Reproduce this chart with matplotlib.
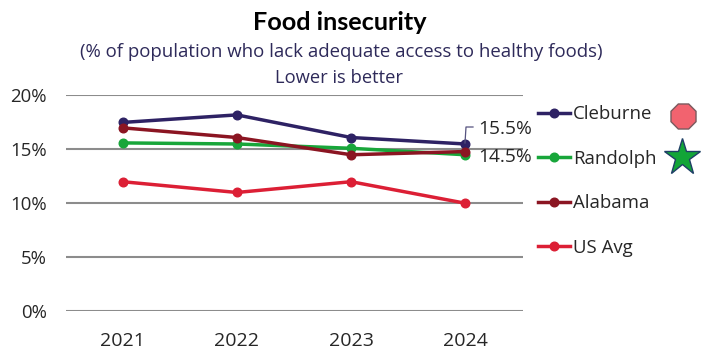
import matplotlib
matplotlib.use("Agg")
import matplotlib.pyplot as plt
from matplotlib.lines import Line2D

years = ["2021", "2022", "2023", "2024"]
cleburne = [17.5, 18.2, 16.1, 15.5]
randolph = [15.6, 15.5, 15.1, 14.5]
alabama = [17.0, 16.1, 14.5, 14.8]
us_avg = [12.0, 11.0, 12.0, 10.0]
series_names = ["Cleburne", "Randolph", "Alabama", "US Avg"]
yticks = [0, 5, 10, 15, 20]

W, H = 701, 350
plt.rcParams['font.family'] = ['Open Sans', 'DejaVu Sans']
fig = plt.figure(figsize=(W/100, H/100), dpi=100)
L, R, T, B = 65.5, 522.5, 95.5, 311
ax = fig.add_axes([L/W, 1-B/H, (R-L)/W, (B-T)/H])
ax.set_xlim(-0.5, 3.5)
ax.set_ylim(0, 20)

cols = ["#2E2264", "#18A63A", "#8B1522", "#DC1F35"]
data = [randolph, cleburne, alabama, us_avg]
dcols = [cols[1], cols[0], cols[2], cols[3]]
x = range(len(years))
for d, c in zip(data, dcols):
    ax.plot(x, d, color=c, lw=2.5, marker='o', ms=6.2, mec=c, mfc=c, zorder=3, clip_on=False)

ax.set_yticks(yticks)
ax.set_yticklabels([f"{v}%" for v in yticks], fontsize=13.4, color="#262626")
ax.set_xticks(list(x))
ax.set_xticklabels(years, fontsize=14, color="#262626")
ax.tick_params(length=0, axis='y', pad=13.5)
ax.tick_params(length=0, axis='x', pad=15)
ax.grid(axis='y', color="#8C8C8C", lw=1.5, zorder=0)
ax.set_axisbelow(True)
for s in ax.spines.values():
    s.set_visible(False)

def fx(px): return px/W
def fy(py): return 1-py/H

# data labels
fig.text(fx(478), fy(129), f"{cleburne[-1]}%", fontsize=13.8, color="#262626", va='center', ha='left')
fig.text(fx(478), fy(157), f"{randolph[-1]}%", fontsize=13.8, color="#262626", va='center', ha='left')
fig.add_artist(Line2D([fx(465), fx(466), fx(473)], [fy(143), fy(127), fy(127)], color="#55527F", lw=0.9))

# titles
fig.text(fx(340), fy(22), "Food insecurity", fontsize=18.2, fontweight='bold', family='Lato', color="black", ha='center', va='center')
fig.text(fx(341), fy(52), "(% of population who lack adequate access to healthy foods)", fontsize=13.45, color="#2E2A5A", ha='center', va='center')
fig.text(fx(339), fy(78), "Lower is better", fontsize=13.2, color="#2E2A5A", ha='center', va='center')

# legend
handles = [Line2D([], [], color=c, lw=2.5, marker='o', ms=6.2) for c in cols]
leg = fig.legend(handles, series_names, loc='upper left', bbox_to_anchor=(fx(538), fy(105.5)),
                 frameon=False, fontsize=13.4, labelcolor="#262626", handlelength=1.72,
                 handletextpad=0.18, labelspacing=1.42, borderpad=0, borderaxespad=0)

# symbols
sym = fig.add_axes([0, 0, 1, 1], facecolor='none')
sym.set_xlim(0, W); sym.set_ylim(H, 0); sym.axis('off')
sym.plot([683], [116], marker=(8, 0, 22.5), ms=19.5, mfc="#F2636F", mec="#7A5A5E", mew=1.0, ls='none')
sym.plot([682], [157], marker='*', ms=28, mfc="#12A537", mec="#1F3F66", mew=1.0, ls='none')

fig.savefig("out.png", dpi=100)
